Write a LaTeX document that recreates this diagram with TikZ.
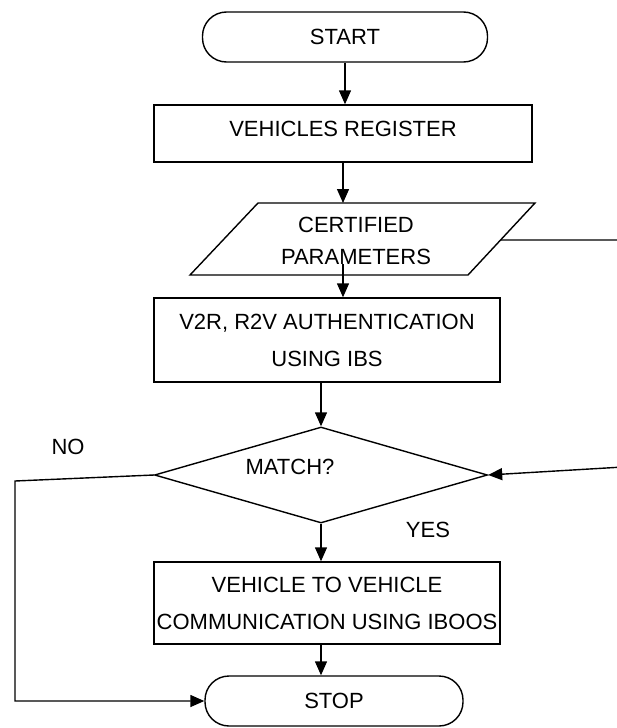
\documentclass[tikz,border=0pt]{standalone}
\usepackage{fontspec}
\setmainfont{Liberation Sans}
\usetikzlibrary{arrows.meta,shapes.geometric}
\begin{document}
\begin{tikzpicture}[x=1pt,y=-1pt,
  line width=1.4pt,
  every node/.style={font=\fontsize{22}{37}\selectfont, align=center, inner sep=0pt},
  term/.style={draw, rounded corners=24pt, minimum width=#1, minimum height=50pt},
  procbox/.style={draw, minimum width=#1},
  arr/.style={-{Triangle[length=14pt,width=12pt]}}]
\useasboundingbox (0,0) rectangle (617,728);
% nodes
\node[term=285pt] (start) at (345,37) {START};
\node[procbox=378pt, minimum height=57pt, text depth=10pt] (vr) at (343,133.5) {VEHICLES REGISTER};
% parallelogram
\coordinate (p1) at (258,203);
\coordinate (p2) at (535,203);
\coordinate (p3) at (468,275);
\coordinate (p4) at (190,275);
\draw (p1) -- (p2) -- (p3) -- (p4) -- cycle;
\node[font=\fontsize{22}{32}\selectfont] (par) at (356,241) {CERTIFIED\\PARAMETERS};
\coordinate (partop) at (343,203);
\coordinate (parout) at (343,264);
\coordinate (parright) at (501,240);
\node[procbox=346pt, minimum height=84pt] (v2r) at (327,340) {V2R, R2V AUTHENTICATION\\USING IBS};
\node[draw, diamond, minimum width=333pt, minimum height=96pt] (dia) at (321,475) {};
\node (match) at (290,467) {MATCH?};
\node (no) at (68,447) {NO};
\node (yes) at (428,530) {YES};
\node[procbox=346pt, minimum height=82pt] (v2v) at (327,603) {VEHICLE TO VEHICLE\\COMMUNICATION USING IBOOS};
\node[term=258pt] (stop) at (334,701) {STOP};
% helper coordinates
\coordinate (r1) at (640,240);
\coordinate (r2) at (640,466);
\coordinate (l1) at (15,481);
% connectors
\draw[arr] (start.south) -- (start.south |- vr.north);
\draw[arr] (vr.south) -- (vr.south |- partop);
\draw[arr] (parout) -- (parout |- v2r.north);
\draw[arr] (v2r.south -| dia.north) -- (dia.north);
\draw[arr] (dia.south) -- (dia.south |- v2v.north);
\draw[arr] (v2v.south -| dia.south) -- (dia.south |- stop.north);
\draw[arr] (parright) -- (r1) -- (r2) -- (dia.east);
\draw[arr] (dia.west) -- (l1) |- (stop.west);
\end{tikzpicture}
\end{document}
